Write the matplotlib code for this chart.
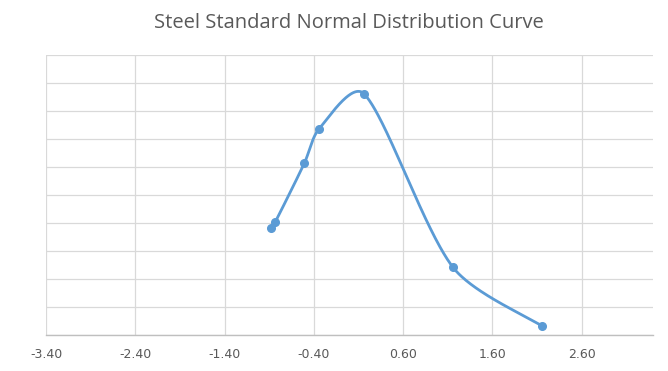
import numpy as np
import matplotlib.pyplot as plt

# z-scores and density values of the steel samples
z_values = [-0.878, -0.830, -0.506, -0.339, 0.164, 1.159, 2.157]
density = [0.1916, 0.2023, 0.3066, 0.3684, 0.4304, 0.1209, 0.0161]

x_ticks = [-3.4, -2.4, -1.4, -0.4, 0.6, 1.6, 2.6]
y_grid = np.arange(0, 0.501, 0.05)


def smooth_curve(ax, xs, ys, k=0.3, n=80):
    """Excel-like smoothed line: cubic Bezier segments with Catmull-Rom
    tangents (screen space), control arms capped relative to the segment."""
    tr = ax.transData
    pts = tr.transform(np.column_stack([xs, ys]))
    m = len(pts)
    tang = [(pts[min(i + 1, m - 1)] - pts[max(i - 1, 0)]) / 6 for i in range(m)]

    def arm(v, L):
        a = np.linalg.norm(v)
        return v if a <= k * L else v / a * k * L

    out = []
    for i in range(m - 1):
        p1, p2 = pts[i], pts[i + 1]
        L = np.linalg.norm(p2 - p1)
        c1 = p1 + arm(tang[i], L)
        c2 = p2 - arm(tang[i + 1], L)
        t = np.linspace(0, 1, n)[:, None]
        seg = ((1 - t) ** 3 * p1 + 3 * (1 - t) ** 2 * t * c1
               + 3 * (1 - t) * t ** 2 * c2 + t ** 3 * p2)
        out.append(seg)
    curve = tr.inverted().transform(np.vstack(out))
    return curve[:, 0], curve[:, 1]


fig = plt.figure(figsize=(6.68, 3.71), dpi=100)
ax = fig.add_axes([0.0689, 0.097, 0.9086, 0.755])
ax.set_xlim(-3.4, 3.4)
ax.set_ylim(0, 0.5)

cx, cy = smooth_curve(ax, z_values, density)
ax.plot(cx, cy, color='#5b9bd5', lw=2.0, solid_capstyle='round', zorder=3)
ax.plot(z_values, density, 'o', color='#5b9bd5', ms=5.5, zorder=4)

ax.set_xticks(x_ticks)
ax.set_xticklabels([f'{v:.2f}' for v in x_ticks])
ax.set_yticks(y_grid)
ax.set_yticklabels([])
ax.grid(True, color='#d9d9d9', lw=0.9)
ax.set_axisbelow(True)
for s in ['top', 'right', 'left']:
    ax.spines[s].set_visible(False)
ax.spines['bottom'].set_color('#bfbfbf')
ax.spines['bottom'].set_linewidth(1.0)
ax.tick_params(axis='both', length=0, colors='#595959', labelsize=9, pad=9)

fig.suptitle('Steel Standard Normal Distribution Curve', x=0.523, y=0.965,
             fontsize=14.5, color='#595959', family='Open Sans')

fig.savefig('out.png', dpi=100)
